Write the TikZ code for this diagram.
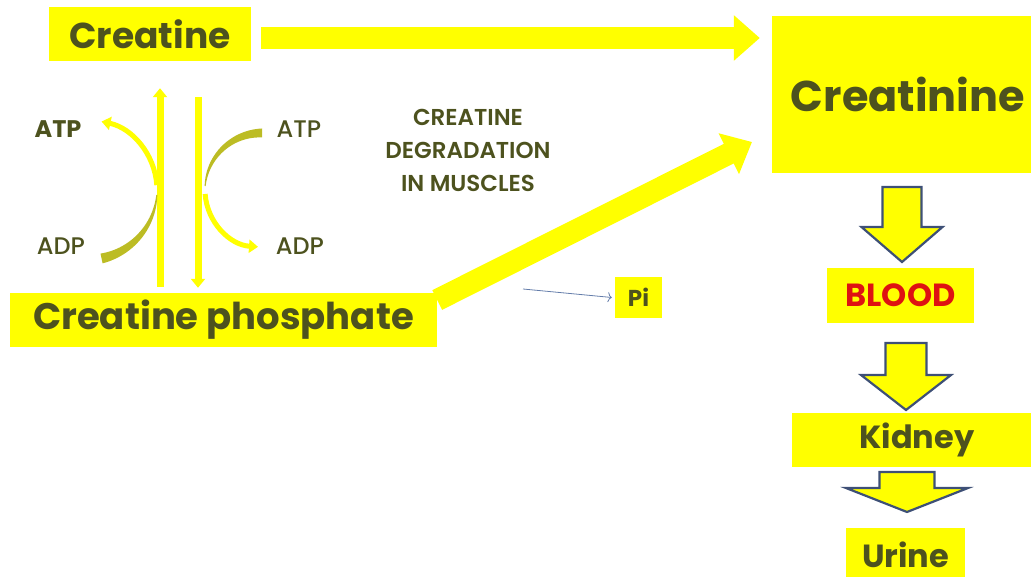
\documentclass[tikz,border=0pt]{standalone}
\usepackage{fontspec}
\setmainfont{Poppins}
\newfontfamily\popsemi{Poppins SemiBold}
\newfontfamily\popmed{Poppins Medium}
\usetikzlibrary{arrows.meta, calc, positioning}
\definecolor{boxyellow}{RGB}{255,255,0}
\definecolor{olivetext}{RGB}{77,82,30}
\definecolor{olivearc}{RGB}{188,188,36}
\definecolor{bloodred}{RGB}{222,18,18}
\definecolor{outlineblue}{RGB}{62,80,118}
\definecolor{pigrey}{RGB}{100,125,170}
% hollow block arrow: x, top, neck, tip, half shaft, half head
\newcommand{\flowarrow}[6]{%
    \draw[blockarrow] ({#1-#5},#2) -- ({#1+#5},#2) -- ({#1+#5},#3) -- ({#1+#6},#3)
        -- (#1,#4) -- ({#1-#6},#3) -- ({#1-#5},#3) -- cycle;}

\begin{document}
\begin{tikzpicture}[x=1pt, y=-1pt,
    box/.style={fill=boxyellow, inner sep=0pt, text=olivetext},
    bigarrow/.style={boxyellow, line width=22pt, -{Triangle[width=44pt,length=26pt]}},
    thinarrow/.style={boxyellow, line width=7pt, -{Triangle[width=14pt,length=9pt]}},
    blockarrow/.style={fill=boxyellow, draw=outlineblue, line width=2.2pt, line join=miter},
    cofactor/.style={text=olivetext, font=\popmed\fontsize{24}{28}\selectfont}]
    \useasboundingbox (0,0) rectangle (1031,577);
    \clip (0,0) rectangle (1031,577);

    % Boxes
    \node[box, minimum width=202pt, minimum height=54pt, font=\bfseries\fontsize{36}{40}\selectfont]
        (creatine) at (150,34) {Creatine};
    \node[box, minimum width=427pt, minimum height=54pt, font=\bfseries\fontsize{37}{40}\selectfont]
        (cp) at (223.5,320) {Creatine phosphate};
    \node[box, minimum width=272pt, minimum height=157pt, font=\bfseries\fontsize{43}{48}\selectfont]
        (creatinine) at (908,94.5) {Creatinine};
    \node[box, minimum width=147pt, minimum height=55pt, text=bloodred, font=\bfseries\fontsize{32}{36}\selectfont]
        (blood) at (900.5,295.5) {BLOOD};
    \node[box, minimum width=250pt, minimum height=54pt, font=\bfseries\fontsize{32}{36}\selectfont]
        (kidney) at (917,440) {Kidney};
    \node[box, minimum width=119pt, minimum height=54pt, font=\bfseries\fontsize{32}{36}\selectfont]
        (urine) at (905.5,555) {Urine};
    \node[box, minimum width=47pt, minimum height=41pt, font=\bfseries\fontsize{23}{26}\selectfont]
        (pi) at (638.5,297.5) {Pi};

    % Labels
    \node[cofactor, font=\bfseries\fontsize{24}{28}\selectfont] (atpL) at (58,129) {ATP};
    \node[cofactor] (adpL) at (61,246) {ADP};
    \node[cofactor] (atpR) at (299,129) {ATP};
    \node[cofactor] (adpR) at (300,246) {ADP};
    \node[text=olivetext, align=center, font=\popsemi\fontsize{23}{33}\selectfont]
        (degr) at (468,150) {CREATINE\\DEGRADATION\\IN MUSCLES};

    % Big yellow arrows
    \coordinate (diagtip) at (752,142);
    \coordinate (pistart) at (523,289);
    \draw[bigarrow] ([xshift=10pt,yshift=-4pt]creatine.east) -- ([xshift=-12pt,yshift=-4pt]creatine.east -| creatinine.west);
    \draw[bigarrow] ([yshift=20pt]cp.east) -- (diagtip);
    \draw[pigrey, line width=0.8pt, -{To[length=4pt,width=10pt]}] (pistart) -- ([xshift=-3pt]pi.west);

    % Creatine <-> creatine phosphate
    \draw[thinarrow] ([xshift=-63.5pt,yshift=6pt]cp.north) -- ([xshift=10pt,yshift=-27pt]creatine.south);
    \draw[thinarrow] ([xshift=48pt,yshift=-36pt]creatine.south) -- ([xshift=-25.5pt,yshift=5pt]cp.north);

    % Left curve: ADP -> ATP
    \fill[olivearc] plot[domain=78:4, samples=30] ({87+(70.5+4.5*(\x-4)/74)*cos(\x)}, {190+(70.5+4.5*(\x-4)/74)*sin(\x)})
        -- plot[domain=4:78, samples=30] ({87+(69.5-4.5*(\x-4)/74)*cos(\x)}, {190+(69.5-4.5*(\x-4)/74)*sin(\x)}) -- cycle;
    \draw[boxyellow, line width=5pt, -{Triangle[width=13pt,length=9pt]}] (87,190) ++(-4:70) arc[start angle=-4, end angle=-78, radius=70];

    % Right curve: ATP -> ADP
    \fill[olivearc] plot[domain=-90:-176, samples=30] ({262+(57.5+4*(\x+176)/86)*cos(\x)}, {190+(57.5+4*(\x+176)/86)*sin(\x)})
        -- plot[domain=-176:-90, samples=30] ({262+(56.5-4*(\x+176)/86)*cos(\x)}, {190+(56.5-4*(\x+176)/86)*sin(\x)}) -- cycle;
    \draw[boxyellow, line width=5pt, -{Triangle[width=13pt,length=9pt]}] (262,190) ++(176:57) arc[start angle=176, end angle=94, radius=57];

    % Excretion path
    \flowarrow{902}{187}{227}{262}{19.5}{40.5}
    \flowarrow{906}{343}{375}{410}{20.5}{45}
    \flowarrow{907}{472}{488}{512}{27.5}{61}
\end{tikzpicture}
\end{document}
